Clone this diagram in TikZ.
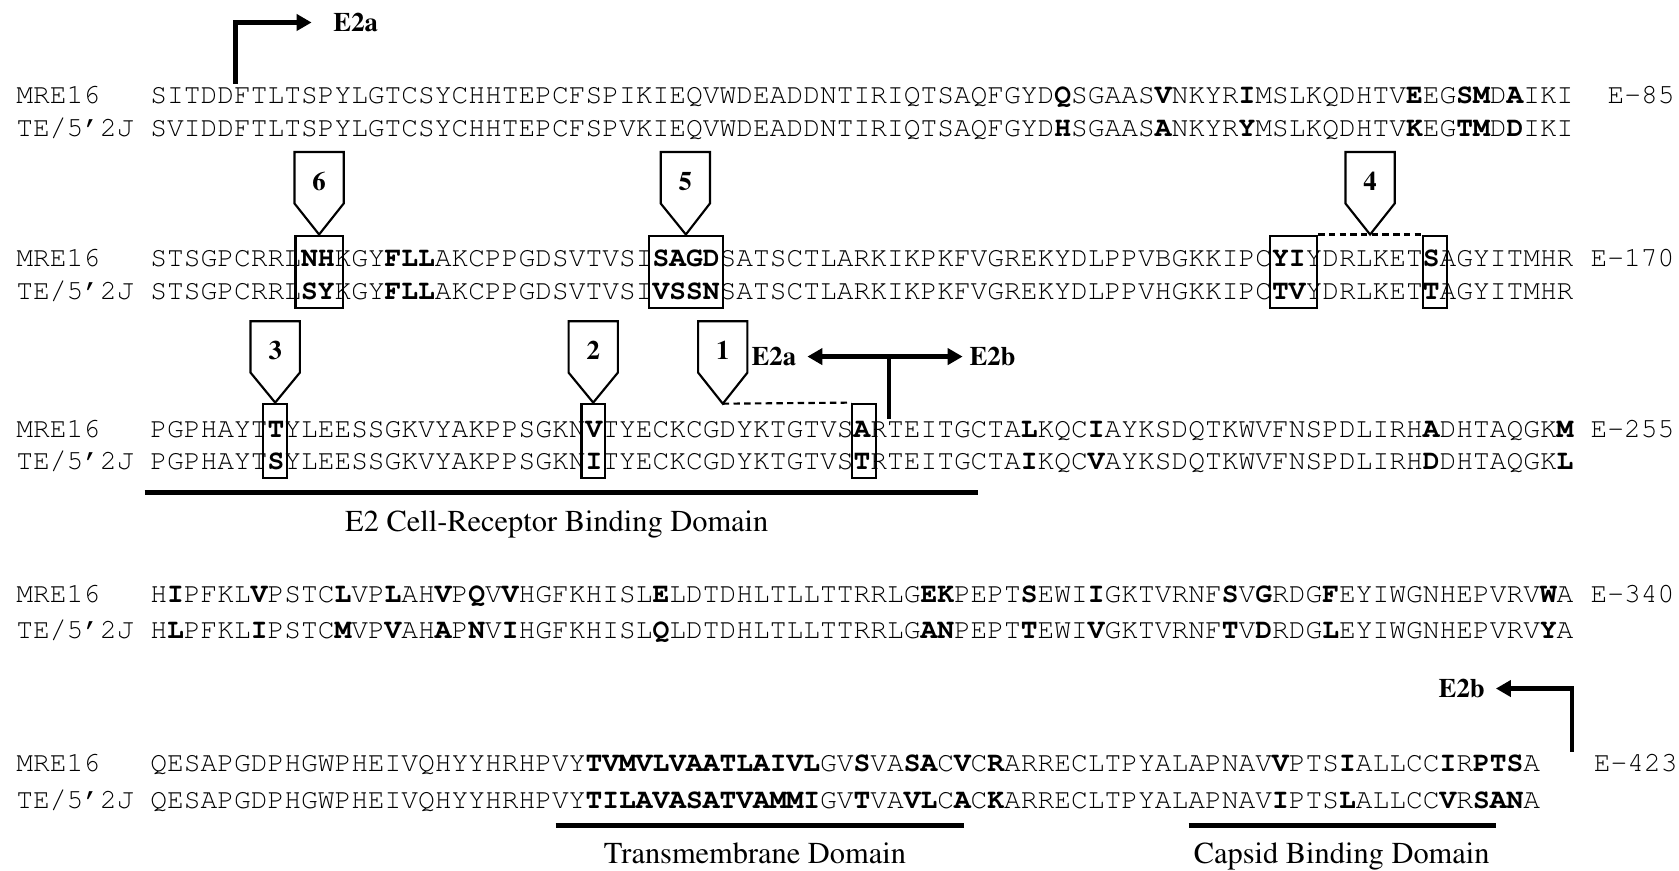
\documentclass[tikz,border=0pt]{standalone}
\usepackage[T1]{fontenc}
\usetikzlibrary{arrows.meta,calc,fit}

\newcommand\seqfont{\fontfamily{pcr}\fontseries{m}\fontsize{13.03}{15}\selectfont}
\newcommand\capfont{\fontfamily{ptm}\fontseries{m}\fontsize{14.2}{16}\selectfont}
\newcommand\tagfont{\fontfamily{ptm}\fontseries{b}\fontsize{12.5}{14}\selectfont}
\newcommand\B[1]{{\bfseries #1}}
% numbered pentagon pointer: name, x, top y, shoulder y, tip, label
\newcommand\sitepointer[6]{%
  \node[tagtext] (#1) at (#2,{(#3+#4)/2+3}) {#6};
  \draw[pointerline] (#2-23,#4) -- (#2-23,#3) -- (#2+23,#3) -- (#2+23,#4) -- (#5) -- cycle;}

\begin{document}
\begin{tikzpicture}[x=0.5pt,y=-0.5pt,>={Triangle[length=7pt,width=7.5pt]},
  seqtext/.style={anchor=base west,inner sep=0pt,font=\seqfont},
  tagtext/.style={inner sep=0pt,font=\tagfont},
  domlabel/.style={anchor=base,inner sep=0pt,font=\capfont},
  sitebox/.style={draw,line width=1pt,inner sep=0pt},
  pointerline/.style={draw,line width=1pt,line join=miter},
  linkline/.style={line width=1pt,dash pattern=on 3pt off 2pt},
  splitline/.style={line width=2pt},
  domainbar/.style={line width=2.5pt}]
\useasboundingbox (0,0) rectangle (1568,813);

% ---- block 1 ----
\node[seqtext] (n1) at (15,96.3) {MRE16};
\node[seqtext] (r1) at (140,96.3) {SITDDFTLTSPYLGTCSYCHHTEPCFSPIKIEQVWDEADDNTIRIQTSAQFGYD\B{Q}SGAAS\B{V}NKYR\B{I}MSLKQDHTV\B{E}EG\B{SM}D\B{A}IKI};
\node[seqtext] (e1) at (1501,96.3) {E-85};
\node[seqtext] (n2) at (15,127.3) {TE/5'2J};
\node[seqtext] (r2) at (140,127.3) {SVIDDFTLTSPYLGTCSYCHHTEPCFSPVKIEQVWDEADDNTIRIQTSAQFGYD\B{H}SGAAS\B{A}NKYR\B{Y}MSLKQDHTV\B{K}EG\B{TM}D\B{D}IKI};

% ---- block 2 ----
\node[seqtext] (n3) at (15,249.3) {MRE16};
\node[seqtext] (r3) at (140,249.3) {STSGPCRRL\B{NH}KGY\B{FLL}AKCPPGDSVTVSI\B{SAGD}SATSCTLARKIKPKFVGREKYDLPPVBGKKIPC\B{YI}YDRLKET\B{S}AGYITMHR};
\node[seqtext] (e2) at (1485,249.3) {E-170};
\node[seqtext] (n4) at (15,279.3) {TE/5'2J};
\node[seqtext] (r4) at (140,279.3) {STSGPCRRL\B{SY}KGY\B{FLL}AKCPPGDSVTVSI\B{VSSN}SATSCTLARKIKPKFVGREKYDLPPVHGKKIPC\B{TV}YDRLKET\B{T}AGYITMHR};

% ---- block 3 ----
\node[seqtext] (n5) at (15,408.3) {MRE16};
\node[seqtext] (r5) at (140,408.3) {PGPHAYT\B{T}YLEESSGKVYAKPPSGKN\B{V}TYECKCGDYKTGTVS\B{A}RTEITGCTA\B{L}KQC\B{I}AYKSDQTKWVFNSPDLIRH\B{A}DHTAQGK\B{M}};
\node[seqtext] (e3) at (1485,408.3) {E-255};
\node[seqtext] (n6) at (15,438.3) {TE/5'2J};
\node[seqtext] (r6) at (140,438.3) {PGPHAYT\B{S}YLEESSGKVYAKPPSGKN\B{I}TYECKCGDYKTGTVS\B{T}RTEITGCTA\B{I}KQC\B{V}AYKSDQTKWVFNSPDLIRH\B{D}DHTAQGK\B{L}};

% ---- block 4 ----
\node[seqtext] (n7) at (15,562.3) {MRE16};
\node[seqtext] (r7) at (140,562.3) {H\B{I}PFKL\B{V}PSTC\B{L}VP\B{L}AH\B{V}P\B{Q}V\B{V}HGFKHISL\B{E}LDTDHLTLLTTRRLG\B{EK}PEPT\B{S}EWI\B{I}GKTVRNF\B{S}V\B{G}RDG\B{F}EYIWGNHEPVRV\B{W}A};
\node[seqtext] (e4) at (1485,562.3) {E-340};
\node[seqtext] (n8) at (15,596.3) {TE/5'2J};
\node[seqtext] (r8) at (140,596.3) {H\B{L}PFKL\B{I}PSTC\B{M}VP\B{V}AH\B{A}P\B{N}V\B{I}HGFKHISL\B{Q}LDTDHLTLLTTRRLG\B{AN}PEPT\B{T}EWI\B{V}GKTVRNF\B{T}V\B{D}RDG\B{L}EYIWGNHEPVRV\B{Y}A};

% ---- block 5 ----
\node[seqtext] (n9) at (15,720.3) {MRE16};
\node[seqtext] (r9) at (140,720.3) {QESAPGDPHGWPHEIVQHYYHRHPVY\B{TVMVLVAATLAIVL}GV\B{S}VA\B{SA}C\B{V}C\B{R}ARRECLTPYALAPNAV\B{V}PTS\B{I}ALLCC\B{I}R\B{PTS}A};
\node[seqtext] (e5) at (1488,720.3) {E-423};
\node[seqtext] (n10) at (15,755.3) {TE/5'2J};
\node[seqtext] (r10) at (140,755.3) {QESAPGDPHGWPHEIVQHYYHRHPVY\B{TILAVASATVAMMI}GV\B{T}VA\B{VL}C\B{A}C\B{K}ARRECLTPYALAPNAV\B{I}PTS\B{L}ALLCC\B{V}R\B{SAN}A};

% ---- boxed sites, rows 3/4 ----
\node[sitebox,fit={(276,220) (320,288)}] (b6) {};
\node[sitebox,fit={(606,220) (675,288)}] (b5) {};
\node[sitebox,fit={(1186,220) (1230,288)}] (b4a) {};
\node[sitebox,fit={(1329,220) (1351,288)}] (b4b) {};
\sitepointer{c6}{298}{142}{190}{b6.north}{6}
\sitepointer{c5}{640}{142}{190}{b5.north}{5}
\draw[linkline] (b4a.north east) -- (b4b.north west);
\coordinate (m4) at ($(b4a.north east)!0.5!(b4b.north west)$);
\sitepointer{c4}{1279.5}{142}{190}{m4}{4}

% ---- boxed sites, rows 5/6 ----
\node[sitebox,fit={(246,377) (268,446)}] (b3) {};
\node[sitebox,fit={(543,377) (565,446)}] (b2) {};
\node[sitebox,fit={(796,377) (818,446)}] (b1) {};
\sitepointer{c3}{257}{300}{348}{b3.north}{3}
\sitepointer{c2}{554}{300}{348}{b2.north}{2}
\coordinate (t1) at (675,377);
\sitepointer{c1}{675}{300}{348}{t1}{1}
\draw[linkline] (t1) -- (b1.north west);

% ---- cleavage arrows ----
\node[tagtext,anchor=west] (a1) at (311,21) {E2a};
\coordinate (s1) at (220,78);
\draw[splitline,->] (s1) |- ([xshift=-10pt]a1.west);

\node[tagtext,anchor=east] (a2) at (744,333) {E2a};
\node[tagtext,anchor=west] (bx2) at (905,333) {E2b};
\draw[splitline,<->] ([xshift=5pt]a2.east) -- ([xshift=-3pt]bx2.west);
\coordinate (s2) at (830,391);
\draw[splitline] (s2) -- (s2 |- a2.east);

\node[tagtext,anchor=east] (bx3) at (1387,643) {E2b};
\coordinate (s3) at (1468,702);
\draw[splitline,->] (s3) |- ([xshift=5pt]bx3.east);

% ---- domains ----
\coordinate (d1a) at (135,460); \coordinate (d1b) at (913,460);
\draw[domainbar] (d1a) -- (d1b);
\node[domlabel] (l1) at (520,496) {E2 Cell-Receptor Binding Domain};
\coordinate (d2a) at (519,771); \coordinate (d2b) at (900,771);
\draw[domainbar] (d2a) -- (d2b);
\node[domlabel] (l2) at (705,806) {Transmembrane Domain};
\coordinate (d3a) at (1110,771); \coordinate (d3b) at (1397,771);
\draw[domainbar] (d3a) -- (d3b);
\node[domlabel] (l3) at (1253,806) {Capsid Binding Domain};
\end{tikzpicture}
\end{document}
